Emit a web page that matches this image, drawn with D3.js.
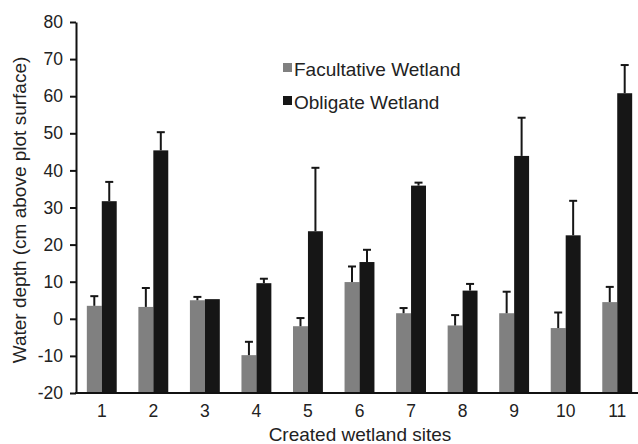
<!DOCTYPE html>
<html>
<head>
<meta charset="utf-8">
<script src="https://cdnjs.cloudflare.com/ajax/libs/d3/7.8.5/d3.min.js"></script>
<style>
body { margin: 0; background: #fff; }
svg { display: block; font-family: "Liberation Sans", Arial, sans-serif; }
</style>
</head>
<body>
<svg id="chart" width="638" height="444"></svg>
<script>
// values (cm above plot surface)
var sites = ["1", "2", "3", "4", "5", "6", "7", "8", "9", "10", "11"];
var seriesNames = ["Facultative Wetland", "Obligate Wetland"];
var facultative = [3.5, 3.2, 5.0, -9.8, -2.0, 9.9, 1.5, -1.8, 1.5, -2.5, 4.5];
var facultativeErr = [2.6, 5.1, 0.9, 3.6, 2.2, 4.2, 1.4, 2.8, 5.8, 4.2, 4.1];
var obligate = [31.7, 45.4, 5.3, 9.6, 23.6, 15.3, 35.9, 7.6, 43.9, 22.5, 60.8];
var obligateErr = [5.2, 4.9, 0, 1.2, 17.1, 3.3, 0.8, 1.8, 10.3, 9.3, 7.6];
var yTicks = [-20, -10, 0, 10, 20, 30, 40, 50, 60, 70, 80];

var colors = ["#808080", "#161616"];
var svg = d3.select("#chart");

var plotLeft = 76, plotRight = 643, plotTop = 22, plotBottom = 393;

var x = d3.scaleBand().domain(sites).range([plotLeft, plotRight])
    .paddingInner(0.42).paddingOuter(0.21);
var x1 = d3.scaleBand().domain([0, 1]).range([0, x.bandwidth()]);
var y = d3.scaleLinear().domain([-20, 80]).range([plotBottom, plotTop]);

// build rows for bars
var rows = [];
sites.forEach(function(s, i){
    rows.push({site: s, k: 0, v: facultative[i], e: facultativeErr[i]});
    rows.push({site: s, k: 1, v: obligate[i], e: obligateErr[i]});
});

// bars start from the bottom of the axis (-20)
svg.append("g").selectAll("rect").data(rows).enter().append("rect")
    .attr("x", function(d){ return x(d.site) + x1(d.k); })
    .attr("width", x1.bandwidth())
    .attr("y", function(d){ return y(d.v); })
    .attr("height", function(d){ return y(-20) - y(d.v); })
    .attr("fill", function(d){ return colors[d.k]; });

// error bars (upper only)
var errs = svg.append("g").attr("stroke", "#161616").attr("stroke-width", 2);
rows.filter(function(d){ return d.e > 0; }).forEach(function(d){
    var cx = x(d.site) + x1(d.k) + x1.bandwidth() / 2;
    errs.append("line").attr("x1", cx).attr("x2", cx)
        .attr("y1", y(d.v)).attr("y2", y(d.v + d.e));
    errs.append("line").attr("x1", cx - 4).attr("x2", cx + 4)
        .attr("y1", y(d.v + d.e)).attr("y2", y(d.v + d.e));
});

// y axis (plain hyphen for negatives, like the original)
var yAxis = svg.append("g").attr("transform", "translate(" + plotLeft + ",0)")
    .call(d3.axisLeft(y).tickValues(yTicks).tickFormat(function(d){ return String(d); })
        .tickSize(6).tickSizeOuter(0).tickPadding(7));
yAxis.selectAll("line, path").attr("stroke", "#111").attr("stroke-width", 2);
yAxis.selectAll("text").attr("font-size", 17.5).attr("fill", "#222")
    .attr("font-family", "Liberation Sans, Arial, sans-serif");

// x axis: plain line, labels only
svg.append("line").attr("x1", plotLeft - 1).attr("x2", 638)
    .attr("y1", plotBottom).attr("y2", plotBottom)
    .attr("stroke", "#111").attr("stroke-width", 2);
svg.append("g").selectAll("text").data(sites).enter().append("text")
    .attr("x", function(d){ return x(d) + x.bandwidth() / 2; })
    .attr("y", 417)
    .attr("text-anchor", "middle")
    .attr("font-size", 17.5).attr("fill", "#222")
    .text(function(d){ return d; });

// axis titles
svg.append("text").attr("x", 360).attr("y", 441)
    .attr("text-anchor", "middle").attr("font-size", 19).attr("fill", "#222")
    .text("Created wetland sites");
svg.append("text").attr("transform", "translate(26,210) rotate(-90)")
    .attr("text-anchor", "middle").attr("font-size", 19).attr("fill", "#222")
    .text("Water depth (cm above plot surface)");

// legend
var legend = svg.append("g").selectAll("g").data(seriesNames).enter().append("g")
    .attr("transform", function(d, i){ return "translate(283," + (63 + i * 33) + ")"; });
legend.append("rect").attr("width", 9).attr("height", 9)
    .attr("fill", function(d, i){ return colors[i]; });
legend.append("text").attr("x", 11).attr("y", 12.5)
    .attr("font-size", 19).attr("fill", "#222")
    .text(function(d){ return d; });
</script>
</body>
</html>
